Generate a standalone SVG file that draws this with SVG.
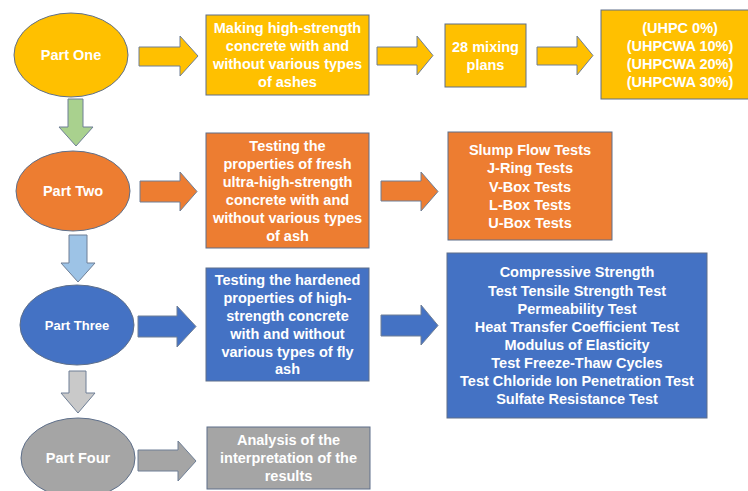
<svg xmlns="http://www.w3.org/2000/svg" width="748" height="491" viewBox="0 0 748 491">
<style>
.t{font-family:"Liberation Sans",Arial,sans-serif;font-weight:bold;font-size:14.5px;fill:#fff;text-anchor:middle}
.shape{stroke:#5E6F8A;stroke-width:1}
.gold{fill:#FFC000}
.orange{fill:#ED7D31}
.blue{fill:#4472C4}
.gray{fill:#A5A5A5}
.arr{stroke:#6F7F96;stroke-width:1}
</style>
<rect width="748" height="491" fill="#fff"/>
<g id="connectors">
  <polygon class="arr gold" points="139,47 180,47 180,36 198,56 180,76 180,66 139,66"/>
  <polygon class="arr gold" points="377,47 417,47 417,36 433,55.5 417,75 417,65 377,65"/>
  <polygon class="arr gold" points="537,47 577,47 577,36 593,55.5 577,75 577,65 537,65"/>
  <polygon class="arr orange" points="140,181 180,181 180,172 197,191.5 180,211 180,202 140,202"/>
  <polygon class="arr orange" points="381,181 421,181 421,172 438,191.5 421,211 421,201 381,201"/>
  <polygon class="arr blue" points="138,316 177,316 177,306 196,326.5 177,347 177,337 138,337"/>
  <polygon class="arr blue" points="381,315 421,315 421,305 438,325.5 421,345 421,336 381,336"/>
  <polygon class="arr gray" points="138,450 178,450 178,441 196,461 178,481 178,471 138,471"/>
  <polygon class="arr" fill="#A9D18E" points="68,99 83,99 83,127 93,127 76,146 59,127 68,127"/>
  <polygon class="arr" fill="#9DC3E6" points="69,235 87,235 87,263 95,263 78,282 61,263 69,263"/>
  <polygon class="arr" fill="#C9C9C9" points="69,371 86,371 86,393 95,393 78,413 61,393 69,393"/>
</g>
<g id="part-one">
  <ellipse class="shape gold" cx="71" cy="55" rx="57" ry="42"/>
  <text class="t" x="71" y="60">Part One</text>
</g>
<g id="making">
  <rect class="shape gold" x="206" y="15" width="163" height="80"/>
  <text class="t" x="287.5" y="33">Making high-strength</text>
  <text class="t" x="287.5" y="51">concrete with and</text>
  <text class="t" x="287.5" y="69">without various types</text>
  <text class="t" x="287.5" y="87">of ashes</text>
</g>
<g id="mixing">
  <rect class="shape gold" x="445" y="24" width="81" height="63"/>
  <text class="t" x="485.5" y="52">28 mixing</text>
  <text class="t" x="485.5" y="70">plans</text>
</g>
<g id="uhpc">
  <rect class="shape gold" x="601" y="10" width="160" height="89"/>
  <text class="t" x="680" y="33">(UHPC 0%)</text>
  <text class="t" x="680" y="51">(UHPCWA 10%)</text>
  <text class="t" x="680" y="69">(UHPCWA 20%)</text>
  <text class="t" x="680" y="87">(UHPCWA 30%)</text>
</g>
<g id="part-two">
  <ellipse class="shape orange" cx="73" cy="191" rx="57" ry="40"/>
  <text class="t" x="73" y="196">Part Two</text>
</g>
<g id="fresh">
  <rect class="shape orange" x="206" y="133" width="163" height="115"/>
  <text class="t" x="287.5" y="151">Testing the</text>
  <text class="t" x="287.5" y="169">properties of fresh</text>
  <text class="t" x="287.5" y="187">ultra-high-strength</text>
  <text class="t" x="287.5" y="205">concrete with and</text>
  <text class="t" x="287.5" y="223">without various types</text>
  <text class="t" x="287.5" y="240.5">of ash</text>
</g>
<g id="fresh-tests">
  <rect class="shape orange" x="448" y="132" width="164" height="108"/>
  <text class="t" x="530" y="155">Slump Flow Tests</text>
  <text class="t" x="530" y="173">J-Ring Tests</text>
  <text class="t" x="530" y="191.5">V-Box Tests</text>
  <text class="t" x="530" y="210">L-Box Tests</text>
  <text class="t" x="530" y="228">U-Box Tests</text>
</g>
<g id="part-three">
  <ellipse class="shape blue" cx="77" cy="325" rx="57" ry="40"/>
  <text class="t" x="77" y="330" style="font-size:13px">Part Three</text>
</g>
<g id="hardened">
  <rect class="shape blue" x="206" y="268" width="163" height="113"/>
  <text class="t" x="287.5" y="285">Testing the hardened</text>
  <text class="t" x="287.5" y="303">properties of high-</text>
  <text class="t" x="287.5" y="321">strength concrete</text>
  <text class="t" x="287.5" y="338.5">with and without</text>
  <text class="t" x="287.5" y="356.5">various types of fly</text>
  <text class="t" x="287.5" y="374">ash</text>
</g>
<g id="hardened-tests">
  <rect class="shape blue" x="447" y="253" width="260" height="165"/>
  <text class="t" x="577" y="277">Compressive Strength</text>
  <text class="t" x="577" y="295.5">Test Tensile Strength Test</text>
  <text class="t" x="577" y="313.5">Permeability Test</text>
  <text class="t" x="577" y="331.5">Heat Transfer Coefficient Test</text>
  <text class="t" x="577" y="349.5">Modulus of Elasticity</text>
  <text class="t" x="577" y="367.5">Test Freeze-Thaw Cycles</text>
  <text class="t" x="577" y="385.5">Test Chloride Ion Penetration Test</text>
  <text class="t" x="577" y="403.5">Sulfate Resistance Test</text>
</g>
<g id="part-four">
  <ellipse class="shape gray" cx="78" cy="458" rx="57" ry="40"/>
  <text class="t" x="78" y="463">Part Four</text>
</g>
<g id="analysis">
  <rect class="shape gray" x="207" y="427" width="163" height="62"/>
  <text class="t" x="288.5" y="445">Analysis of the</text>
  <text class="t" x="288.5" y="463">interpretation of the</text>
  <text class="t" x="288.5" y="481">results</text>
</g>
</svg>
